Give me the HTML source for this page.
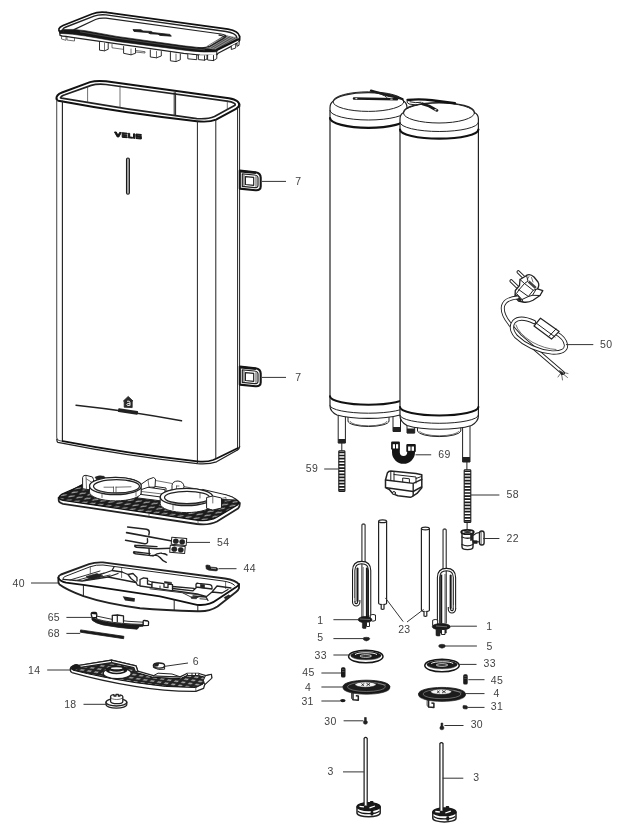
<!DOCTYPE html>
<html>
<head>
<meta charset="utf-8">
<style>
html,body{margin:0;padding:0;background:#fff;}
body{width:628px;height:838px;overflow:hidden;font-family:"Liberation Sans",sans-serif;}
svg{display:block;position:absolute;left:0;top:0;}
.l{fill:none;stroke:#222;stroke-width:1;stroke-linecap:round;stroke-linejoin:round;}
.t{fill:none;stroke:#333;stroke-width:0.7;stroke-linecap:round;stroke-linejoin:round;}
.b{fill:none;stroke:#111;stroke-width:1.6;stroke-linecap:round;stroke-linejoin:round;}
.w{fill:#fff;stroke:#222;stroke-width:1;stroke-linecap:round;stroke-linejoin:round;}
.wt{fill:#fff;stroke:#222;stroke-width:0.95;stroke-linecap:round;stroke-linejoin:round;}
.k{fill:#222;stroke:#222;stroke-width:0.6;stroke-linejoin:round;}
.ld{fill:none;stroke:#333;stroke-width:1;}
text{font-family:"Liberation Sans",sans-serif;font-size:10.5px;fill:#424242;letter-spacing:0.3px;}
</style>
</head>
<body>
<svg width="628" height="838" viewBox="0 0 628 838">
<rect width="628" height="838" fill="#fff"/>
<defs>
<pattern id="grid" width="8" height="4.400" patternUnits="userSpaceOnUse" patternTransform="skewY(8) skewX(-35)">
<rect width="8" height="4.400" fill="#1c1c1c"/>
<path d="M1.500,3.200 L6.500,1.400" stroke="#9a9a9a" stroke-width="1.300"/>
<path d="M1.800,1.600 L4,1.200" stroke="#666" stroke-width="0.700"/>
</pattern>
<pattern id="grid2" width="7" height="3.6" patternUnits="userSpaceOnUse" patternTransform="skewY(9) skewX(-40)">
<rect width="7" height="3.6" fill="#222"/>
<rect x="1.600" y="1" width="3.800" height="1.500" fill="#aaa"/>
</pattern>
</defs>


<!-- ===== LID ===== -->
<g id="lid">
<!-- side/underside white body -->
<path class="w" style="stroke-width:1.300" d="M59.500,30 L60,35.300 Q62,36.200 66,36.400 L72,37.300 L183.700,53.300 L200,55.100 L214,55.300 Q217.500,55 218.500,53 L237.400,43.200 Q239.400,42 239.500,40 L239.600,36 L106,12.400 Z"/>
<!-- tabs below -->
<path class="t" d="M61.500,35.800 L61.500,39 L66,40.300 L66,36.800 M67,37 L67,40 L74.500,41 L74.500,38"/>
<path class="wt" d="M99.500,42 L99.500,50.200 L104.500,50.800 L108.200,49.300 L108.200,43.200"/>
<path class="t" d="M104.500,43 L104.500,50.800"/>
<path class="t" d="M112,44.500 L112,47.800 L124,49.400"/>
<path class="wt" d="M123.600,46.500 L123.600,53.300 L131,54.800 L135.500,53.300 L135.500,48.300"/>
<path class="t" d="M131,49 L131,54.800 M135.500,50.500 L145,51.700 L145,53 L135.500,52"/>
<path class="wt" d="M150.300,50 L150.300,57 L156.500,57.800 L161.300,56 L161.300,51.500"/>
<path class="t" d="M156.500,51.500 L156.500,57.800"/>
<path class="wt" d="M170.400,52.500 L170.400,60.800 L176,61.600 L180.300,59.800 L180.300,54"/>
<path class="t" d="M176,54 L176,61.600"/>
<path class="wt" d="M187.800,54.500 L187.800,58.800 L196.700,59.700 L196.700,55.200 M198.400,55.200 L198.400,59.600 L204.500,60.200 L207,59 L207,55.300 M204.500,55.800 L204.500,60.200 M207.600,55.300 L207.600,60 L213.500,60.600 L216.800,58.500 L216.800,54 M213.500,55.500 L213.500,60.600"/>
<path class="wt" d="M231.300,46.200 L231.300,49.500 L235.700,48 L235.700,44 M237,43.300 L237,46.300 L239,45.300 L239.200,41.500"/>
<!-- white strip edge lines are part of body; now top surface -->
<path d="M60.500,32.600 C57.500,30 58.500,27.500 63,25.500 L92,14 Q98,11.600 106,12.400 L228,29.200 Q238.500,31 239.600,36.500 L239.500,39 L217,50.200 Q205,51.200 190,49.200 Z" fill="#fff" stroke="none"/>
<!-- hatch zone -->
<path d="M224.600,35 L236.500,37.300 L237.800,39.300 L216.800,49.600 L206.800,47.900 Z" fill="#8c8c8c"/>
<path class="t" style="stroke:#222;stroke-width:0.600" d="M209,47 L227,36 M211.500,47.700 L230,36.700 M214,48.300 L232.500,37.500 M216.500,49 L235,38.300 M207.500,46 L225,35.400"/>
<!-- outer rim -->
<path class="b" style="stroke-width:1.700" d="M60.500,32.600 C57.500,30 58.500,27.500 63,25.500 L92,14 Q98,11.600 106,12.400 L228,29.200 Q238.500,31 239.600,36.500 L239.500,40.500"/>
<!-- front thick band -->
<path d="M60,30.800 L62.500,29.500 L74,29.400 L85.400,30.700 L116.900,36.400 L183.700,45.800 L207,48.400 L217,49.800 L216.800,51.800 Q205,52.700 190,50.900 L116.900,41.400 L85.400,36 L72.300,34.200 L60.300,33.400 Z" fill="#161616" stroke="#161616" stroke-width="0.600" stroke-linejoin="round"/>
<path d="M80,31.800 L116.900,38.200 L183.700,47.600 L205,49.900" fill="none" stroke="#777" stroke-width="0.500"/>
<path class="b" style="stroke-width:2.200" d="M216.800,50 L238.300,39.300"/>
<path class="l" d="M216.800,50 L216.800,54.800"/>
<!-- second / third rim lines -->
<path class="l" style="stroke-width:1.400" d="M63.500,31.200 C62,29.400 63,28.200 66,27 L94,16.200 Q99,14.200 106,14.900 L226,31.500 Q235.800,33 236.900,37.500"/>
<!-- inner panel -->
<path class="l" style="stroke-width:1.200" d="M74,29.600 L95.500,19.500 Q100,17.600 106,18.200 L221,34 Q228,35.200 224.600,37.500 L223.500,38.600 M219,35.200 Q226.500,36.300 223.500,38.600 L209.500,46.400 Q205,48.300 198,47.600"/>
<!-- logo bar -->
<path d="M133,29.600 L141,29.800 L143,31 L151,31.400 L153,32.600 L170,34.400 L171.300,36.200 L160,35.400 L158,34.200 L150,33.800 L148,32.600 L134,31.400 Z" fill="#1a1a1a" stroke="#1a1a1a" stroke-width="0.800"/>
</g>

<!-- ===== BODY ===== -->
<g id="body">

<!-- top rim outer -->
<path class="b" style="stroke-width:1.900" d="M56.600,99 C56,96 58,94 62,92.500 L90,82.200 Q96,80.300 106,81.300 L229,98.300 Q240.500,100.300 239.300,106.500"/>
<path class="b" style="stroke-width:1.900" d="M56.600,99 Q57,100.500 58.400,100.800 Q127.600,113.700 196.800,121.200 Q209,122.600 216,119.600 L236,108.800 Q239.300,107 239.300,104"/>
<!-- inner rim -->
<path class="l" style="stroke-width:1.700" d="M61,97.900 C60.500,96.600 62,95.700 64.800,94.800 L91.200,85.400 Q97.200,83.600 106,84.500 L227,101.200 Q236.500,102.700 235,105.200 L214.500,116.500 Q208,119.300 196.800,118.600 Q130,110.200 63.100,98.400 Q60.800,98.300 60.500,97.800"/>
<!-- inside verticals -->
<path class="t" d="M87.600,86.500 L87.600,101.500 M120,85.800 L120,107"/>
<path class="l" d="M174.200,92.500 L174.200,115.500 M175.600,92.700 L175.600,115.700"/>
<path class="t" d="M227.300,101 L227.300,109.500"/>
<!-- body sides -->
<path d="M56.700,100 L56.700,437.500 Q57,440.300 60,440.800 L62.700,441.200" fill="none" stroke="#555" stroke-width="1.100"/>
<path class="l" style="stroke-width:1.150" d="M62.400,101 L62.400,441"/>
<path class="l" d="M197.400,121.300 L197.400,463"/>
<path class="l" d="M215.800,120 L215.800,458.500"/>
<path class="l" d="M237.600,108 L237.600,447.500"/>
<path class="l" d="M239.600,105 L239.600,447"/>
<!-- bottom -->
<path class="b" style="stroke-width:1.700" d="M62.700,441.200 Q131,454.300 197.400,461.300 Q207,462.200 213,460 L216,458.700 L238,447.900"/>
<path class="l" style="stroke-width:1.300" d="M56.800,439.500 Q57,442 57.900,442.400 Q127.650,456.300 197.400,463.700 Q209,464.600 216.500,461.800 L237,450.300 Q239.600,449 239.600,446.500"/>
<!-- logo VELIS -->
<g fill="#161616" stroke="#161616" stroke-width="1">
<path d="M114.5,132 L116.3,132 L118,135.3 L119.6,132.4 L121.3,132.5 L118.8,137 L117.2,136.9 Z"/>
<path d="M122.2,132.7 L127.2,133.2 L127.2,134.1 L123.6,133.8 L123.6,134.7 L126.8,135 L126.8,135.8 L123.6,135.5 L123.6,136.5 L127.2,136.8 L127.2,137.7 L122.2,137.3 Z"/>
<path d="M128.3,133.3 L129.7,133.4 L129.7,137 L132.6,137.3 L132.6,138.2 L128.3,137.8 Z"/>
<path d="M133.5,133.8 L134.9,133.9 L134.9,138.4 L133.5,138.3 Z"/>
<path d="M136,134 L141.3,134.5 L141.3,135.4 L137.4,135.1 L137.4,135.9 L141.3,136.3 L141.3,139 L136,138.5 L136,137.6 L139.9,138 L139.9,137.2 L136,136.8 Z"/>
</g>
<!-- slot -->
<rect x="126.500" y="158" width="2.900" height="36.200" rx="1.400" fill="#a8a8a8" stroke="#1a1a1a" stroke-width="1.100"/>
<!-- deco line -->
<path class="l" style="stroke-width:1.5" d="M76,405.2 Q130,411 181.5,420.8"/>
<!-- house icon -->
<path d="M123.4,401 L128.2,396.4 L133,401 L132.2,401 L132.2,407.6 L124.2,407.2 L124.2,401 Z" fill="#2a2a2a" stroke="#222" stroke-width="0.8" stroke-linejoin="round"/>
<path d="M127,401.3 Q129.8,400.3 130,402.6 L130,405.6 M130,403.3 Q126.6,403 126.8,404.8 Q127.2,406.2 130,405.2" fill="none" stroke="#fff" stroke-width="0.9"/>
<rect x="118" y="409.6" width="20" height="3.8" rx="0.8" fill="#222" transform="rotate(8 128 411.5)"/>
<!-- brackets -->
<g id="br1">
<path d="M239.800,170.600 L255.500,172.200 Q260.700,173 260.700,177.500 L260.700,186.500 Q260.700,190.600 255.500,190.200 L239.800,188.600 Z" fill="#fff" stroke="#151515" stroke-width="2.100" stroke-linejoin="round"/>
<path d="M240.500,171.300 L256,172.900" stroke="#151515" stroke-width="2.200"/>
<path class="l" style="stroke-width:1.200" d="M242.300,173.800 L254.500,175 Q258,175.500 258,178 L258,185.200 Q258,187.900 254.500,187.600 L242.300,186.400 Z"/>
<path d="M243.900,174.600 L243.900,186 M256,176.200 L256,186.800" stroke="#8a8a8a" stroke-width="1.500" fill="none"/>
<path class="l" style="stroke-width:1.200" d="M245.400,176.600 L253.700,177.400 L253.700,185.300 L245.400,184.500 Z"/>
</g>
<use href="#br1" y="196"/>

</g>

<!-- ===== FRAME ===== -->
<g id="frame">

<!-- plate side/thickness -->
<path class="w" style="stroke-width:1.800" d="M58.6,497.8 L58.8,501 Q59.5,503 63,503.8 L197,524 Q209,525.5 217,521.5 L238,508.5 Q240,507 239.8,503 L235,499 L100,481 L82,485 Z"/>
<!-- plate top surface -->
<path d="M59,497.5 Q59.5,495.5 62,494 L82,485.3 L100,481 L226,495 Q233,496.5 238,501 Q239.5,503.3 237.5,505 L216.5,517.5 Q209,521.5 198,520.3 L63,500.4 Q59.5,499.7 59,497.5 Z" fill="url(#grid)" stroke="#111" stroke-width="1.2" stroke-linejoin="round"/>
<path class="t" d="M149,513.6 L149,517 M198,520.5 L198,524"/>
<path d="M92,478.500 L141,483 L172,487 L204,490.500 L206,498 L160,498 L141,493 L92,488 Z" fill="#fff" stroke="none"/>
<path class="t" d="M155.500,480.500 L172,483.500 M184,486.500 L204,490.500"/>
<!-- left ear -->
<path class="w" d="M82.6,488.5 L82.6,477.5 Q83,475 86,475.3 L92.5,477 L93.5,479.5 L93.5,487 L90,489.5 Z"/>
<path class="t" d="M86,476 L86.5,488.5 M86.5,479 L93,483"/>
<!-- back block left of ring1 -->
<path class="k" d="M95,477.2 Q99,475 104,476.3 L106,478.6 L97,480 Z"/>
<!-- ring 1 -->
<path class="w" d="M138,484 L166,488 L166,501.5 L138,498 Z"/>
<path class="w" d="M89.5,486 A26,8.6 0 0 1 141.5,486 L141.5,492.3 A26,8.6 0 0 1 89.5,492.3 Z"/>
<ellipse cx="115.5" cy="486" rx="26" ry="8.6" class="w" style="stroke-width:1.3"/>
<ellipse cx="116.5" cy="486.3" rx="23" ry="6.6" class="w" style="stroke-width:1.2"/>
<path class="t" d="M95,489.3 A23,6.6 0 0 0 138.5,488.6 M113.5,487 L113.5,492.5 M116,487 L116,492.5 M104,487.2 L113.5,487.2 M116,487.2 L131,486.8"/>
<path class="t" d="M102,493.7 L102,497.5 M136,492 L136,496"/>
<!-- right ear ring1 -->
<path class="w" d="M141.5,484 L148,479.5 L153.5,477.5 L155.5,479 L155,487 L148,489.5 L141.5,489.5 Z"/>
<path class="t" d="M148,479.8 L149,487 L155,487 M149,487 L146,489.5"/>
<!-- middle bar -->
<path class="w" d="M141.5,489.5 L148,487.3 L165,489.7 L165,497.5 L141.5,494.5 Z"/>
<path class="t" d="M141.5,491.5 L165,494.3"/>
<!-- knob -->
<path class="w" d="M172,491 L172,485.5 Q172.5,481 178,481 Q183.5,481.5 184,486.5 L183,491.5 Z"/>
<path class="t" d="M176.5,486 L176.5,490.5 M176.5,486 L179,486"/>
<path class="w" d="M203,489.500 L226,494.800 Q233,496.500 236.500,500 L222,499.500 L204,497 Z"/>
<!-- ring 2 -->
<path class="w" d="M160.2,497 A26.3,8.6 0 0 1 212.8,497 L212.8,504 A26.3,8.6 0 0 1 160.2,504 Z"/>
<ellipse cx="186.5" cy="497" rx="26.3" ry="8.6" class="w" style="stroke-width:1.3"/>
<ellipse cx="187" cy="497.5" rx="22.5" ry="6.2" class="w" style="stroke-width:1.2"/>
<path class="t" d="M166,500.5 A22.5,6.2 0 0 0 208.5,500 M173,504.3 L173,509.5 M207,501.5 L207,506.5 M200,492.5 L200,498"/>
<!-- right block -->
<path class="w" d="M206.6,508 L206.6,497.500 L212.8,496 L221.5,498 L221.5,508 L213,510 Z"/>
<path class="t" d="M212.8,496.5 L212.8,503 M221.5,498.5 L226,497.5 L226,499 M225,500 L229,501.5 L225,503.5 Z"/>

</g>

<!-- ===== LOWER LEFT PARTS ===== -->
<g id="lowleft">

<!-- 54 wires -->
<g style="stroke-width:1.4">
<path class="l" style="stroke-width:1.400" d="M127.6,527 L146.5,529.2 Q149.5,529.8 149.3,532.5 L148.8,535"/>
<path class="l" style="stroke-width:1.700" d="M126.6,532.6 L172,541"/>
<path class="l" style="stroke-width:1.400" d="M125.5,540.3 L144.5,543.7 Q147.5,544 147.6,541.5 L147.4,538.6"/>
<path class="l" style="stroke-width:1.400" d="M135,545.2 Q134,546.8 136.5,547.2 L157,548.7 L171,548.3 M135,545.2 L157,546.6"/>
<path class="l" style="stroke-width:1.400" d="M133.8,551.8 Q132.8,553.3 135.5,553.8 L151,555.6 M133.8,551.8 L150,553.6"/>
<path class="l" style="stroke-width:1.400" d="M149,548.5 L149.3,554.5"/>
<path class="l" style="stroke-width:1.400" d="M151,555.6 Q157,554 160,557.5 Q162.5,561 166.3,562.3 M153,556 Q158,552.5 162,553.2 Q166,553.8 167,555"/>
<rect x="171.5" y="537.8" width="15" height="7" class="w" transform="rotate(5 179 541)"/>
<rect x="170" y="545.8" width="15" height="7" class="w" transform="rotate(5 177 549)"/>
<ellipse cx="175.8" cy="541.2" rx="2.6" ry="2.4" class="k"/><ellipse cx="182.2" cy="541.9" rx="2.6" ry="2.4" class="k"/>
<ellipse cx="174.3" cy="549.2" rx="2.6" ry="2.4" class="k"/><ellipse cx="180.8" cy="549.9" rx="2.6" ry="2.4" class="k"/>
</g>
<!-- 44 -->
<path class="k" d="M205.8,565.8 Q206,564.8 207.5,565 L210,565.6 L210.3,567 L216.5,567.6 Q218,568 217.8,569.5 Q217.5,571 216,570.9 L209,570.2 L206.3,569 Z"/>
<path d="M211,568.2 L216,568.8" stroke="#ccc" stroke-width="0.7"/>
<!-- 40 cover -->
<g>
<!-- outer body silhouette -->
<path class="w" style="stroke-width:1.900" d="M58.4,577.4 Q58.6,575.6 61,574.5 L89,564.2 Q95,562 103,562.4 L225,578.5 Q236,580.3 239,584.5 L239,588.3 Q238.5,590 236,592 L217.5,606.5 Q209,612 197,611.2 Q165,610.5 140,608.3 Q105,603.5 83.5,596.2 Q66,589.5 59.5,584.5 Q58.2,583.3 58.4,581 Z"/>
<!-- rim front edge -->
<path class="b" style="stroke-width:1.800" d="M58.4,577.8 Q60,581.2 66,582.6 L85,585.2 L160,596.4 L197,604.8 Q209,606 217,599.8 L237,586.4 Q239,585 239,584"/>
<!-- inner rim -->
<path class="l" d="M63,579.3 Q62.5,577.5 65,576.5 L90,566.8 Q96,564.6 103,565 L223,581 Q232,582.3 234.5,585.3"/>
<path class="t" d="M90.3,566.8 L90.3,574 M121.6,567.6 L121.6,577.5 M225.6,581.5 L225.6,588.5"/>
<!-- front face verticals -->
<path class="l" d="M83.4,585.2 L83.4,596 M174.2,599.5 L174.2,610.2 M197.8,605 L197.8,611"/>
<!-- small logo -->
<path d="M122.7,596.3 L135,598.2 L134.5,601.8 L125,600.6 Z" fill="#222"/>
<!-- interior -->
<path class="l" style="stroke-width:1.300" d="M63,579.3 L82,581 L112,570.5 L122,572 M82,581 L108,577 L118,573.5 M112,570.5 L114,567"/>
<path class="t" style="stroke-width:1" d="M70,580 L100,571 M76,580.6 L104,573 M90,579.6 L110,575"/>
<path class="k" d="M86,576.5 L97,573.5 L103,576 L92,579.5 Z"/>
<path class="l" style="stroke-width:1.300" d="M108,577 L136,582.5 L137.5,585.2 L160,588.7 L197,594 L206,596.5"/>
<path class="l" style="stroke-width:1.300" d="M122,572 L128,574.5 L131,578.5 L136,582.5 M128,574.5 L133,573.5 L137,577.5 L137,581"/>
<path class="w" style="stroke-width:1.300" d="M140,586 L140,579.5 L143.5,577.8 L147.5,578.5 L147.5,584 L152,584.8 L152,587.7 Z"/>
<path class="w" style="stroke-width:1.300" d="M152,587.7 L152,582 L164,583.6 L164,587.2 L168,587.6 L168,584 L172.5,584.6 L172.5,590.8 Z"/>
<path class="t" style="stroke-width:1" d="M147.500,580.5 L152,582 M150,588.8 L197,594.5 M160,586 L160,588.7"/>
<path class="k" d="M164.5,581.5 L171.5,582.4 L171.5,583.8 L164.500,583 Z"/>
<path class="l" style="stroke-width:1.300" d="M172.500,588.5 L193,590.8 L197,587 L211.5,588.2 M172.5,586.5 L194,588.4"/>
<path class="w" style="stroke-width:1.300" d="M196,587 L196,584.300 Q196.500,583 198.500,583.300 L210,584.700 Q212,585.300 212,587 L212,589 L196,587 Z"/>
<path class="k" d="M200.500,584.200 L204.500,584.700 L204.500,588 L200.500,587.500 Z"/>
<path class="l" style="stroke-width:1.300" d="M193,596 L206,597 L212,592 L217,586 L231,588 M206,597 L208,600.500 M212,592 L222,593 L228,589.500"/>
<path class="t" style="stroke-width:1" d="M183,593 L191,597 L198,597.5 M200,598.8 L207,599.3"/>
<path class="k" d="M224,597.500 L229,594.800 L230,596 L225.500,599 Z"/>
<path class="k" d="M191,597 L196.500,597.400 L196.500,598.800 L191.500,598.500 Z"/>
</g>
<!-- 65 -->
<g>
<path d="M92,617 Q95,619.500 103,621.200 Q120,624.500 143,624.700 L143,626.200 L139.600,626.500 L137.200,629.200 Q118,627.800 103,624.900 Q95,623 92,620 Z" fill="#1a1a1a" stroke="#1a1a1a" stroke-width="0.800" stroke-linejoin="round"/>
<path d="M96.300,616 Q112,620 128,621.300 L143.300,622.200 L143.300,624.400 Q120,624 103,620.700 Q98,619.600 96,618.300 Z" fill="#fff" stroke="#1a1a1a" stroke-width="0.900" stroke-linejoin="round"/>
<path d="M91.200,614.500 Q91,612.500 93,612.300 L95.300,612.500 Q96.900,612.800 96.800,614.500 L96.500,617.500 L92.200,618 Z" fill="#fff" stroke="#1a1a1a" stroke-width="1.300" stroke-linejoin="round"/>
<path d="M91.500,613.300 L96.500,613.600" stroke="#1a1a1a" stroke-width="1.600"/>
<path class="w" style="stroke-width:1.300" d="M112.300,621.300 L112.300,615.300 L117.500,615 L123.500,615.900 L123.500,622.300"/>
<path class="l" style="stroke-width:1.200" d="M117.300,615.200 L117.300,621.800"/>
<path d="M143.200,621 Q143.300,620.300 144.500,620.500 L147.800,621 Q148.700,621.300 148.600,622.300 L148.400,625.300 L143.200,625.600 Z" fill="#fff" stroke="#1a1a1a" stroke-width="1.300" stroke-linejoin="round"/>
</g>
<!-- 68 -->
<path d="M80.600,629.900 L123.900,636.300 L123.600,638.700 L80.300,632.200 Z" fill="#1a1a1a" stroke="#1a1a1a" stroke-width="0.8" stroke-linejoin="round"/>
<!-- 14 -->
<g>
<path class="w" style="stroke-width:1.300" d="M70.300,668.500 Q70.500,666.800 72.500,666 L75,664.800 Q77,664.200 79,665.600 L111.500,660.200 L136,665.800 L137.800,671.200 L153.400,675.700 L180.200,676.800 L186.900,673.500 L199,673.500 L205.800,675.700 L211.400,674.400 L211.800,678 L204.700,684.600 L203.600,688.400 L195.800,691.300 Q165,691.500 135,686.300 Q100,680.500 72,672.500 Q70,671.500 70.300,668.500 Z"/>
<!-- top grid area -->
<path d="M72.500,669.500 L80,667.200 L111.700,662.700 L134,667.500 L136.500,672.500 L153,677.300 L180.500,678.600 L187,675.500 L198.500,675.500 L206,677.500 L203,684 L195.800,687.500 Q165,687.800 135,682.600 Q100,677 73.500,670.300 Z" fill="url(#grid2)" stroke="#111" stroke-width="1"/>
<path class="w" style="stroke-width:1.200" d="M79,665.300 L111.500,660.200 L136,665.800 L137.800,671.200 L135.500,671.800 L133.800,667.600 L111.700,662.600 L80.500,667.300 Z"/>
<path class="l" d="M111.500,660.200 L111.700,662.600"/>
<path d="M70.800,668 Q71,665.800 73.500,665 L76,664.400 Q78.500,664.300 80,666 L80.300,667.500 L74,670.500 Q71,670.500 70.800,668 Z" fill="#1a1a1a"/>
<!-- hub -->
<ellipse cx="117.200" cy="673.200" rx="14" ry="5.500" class="w" style="stroke-width:1.400"/>
<ellipse cx="116.600" cy="670" rx="10.800" ry="4.300" fill="#1a1a1a"/>
<ellipse cx="116.600" cy="668.300" rx="5.800" ry="1" fill="#f4f4f4"/>
<path d="M109.500,671 Q116.600,673.500 123.700,671" fill="none" stroke="#f4f4f4" stroke-width="1.200"/>
<!-- right end bumps -->
<path class="w" d="M153.400,675.700 L158,673.200 L172,674 L180.200,676.800 Z"/>
<path class="w" d="M186.900,673.500 L188,675.500 L198.500,675.500 L199,673.500 M192,673.500 L192,675.500 M195.500,673.500 L195.500,675.500"/>
<path class="w" d="M205.800,675.700 L211.400,674.400 L211.800,678 L204.700,684.600 L203.500,680.500 Z"/>
<path class="t" d="M195.800,687.500 L195.800,691.300"/>
</g>
<!-- 6 -->
<g>
<path class="w" d="M153.400,665 L153.400,667.500 Q158,670.500 164.600,669.200 L164.600,666.200"/>
<ellipse cx="159" cy="665.600" rx="5.600" ry="2.600" class="w" style="stroke-width:1.300"/>
<path class="k" d="M154,664.500 Q156,662.700 159,663 L158,666 L154.500,666.500 Z"/>
</g>
<!-- 18 -->
<g>
<path class="w" style="stroke-width:1.200" d="M106,702.300 L106,704.500 A10.400,3.700 0 0 0 126.800,704.500 L126.800,702.300"/>
<ellipse cx="116.400" cy="702.300" rx="10.400" ry="3.700" class="w" style="stroke-width:1.400"/>
<path class="w" style="stroke-width:1.300" d="M110.600,701.500 L110.600,696.300 Q110.800,695 112.500,694.800 L114,694.600 L114,696 L116,696 L116,694.300 L118.300,694.300 L118.300,696 L120,696 L120,694.800 Q122.600,695.200 122.800,696.500 L122.800,701.500 A6.100,2.200 0 0 1 110.600,701.500 Z"/>
<path class="t" d="M110.600,697.500 A6.100,2 0 0 0 122.800,697.500"/>
</g>

</g>

<!-- ===== TANKS ===== -->
<g id="tanks">

<!-- LEFT TANK pipes (behind) -->
<path class="w" d="M338.200,412 L338.200,443 L345.400,443 L345.400,412 Z"/>
<rect x="338.200" y="439" width="7.200" height="4.200" fill="#222"/>
<path class="w" d="M393,412 L393,431.500 L400.500,431.500 L400.500,412 Z"/>
<rect x="393" y="427" width="7.500" height="4.800" fill="#222"/>
<!-- left flange -->
<path class="w" d="M348,414 L348,421 A20.500,5.500 0 0 0 389,421 L389,414 Z"/>
<path class="t" d="M350,421.500 A18.500,4.300 0 0 0 387,421.500"/>
<!-- left tank body -->
<path class="w" style="stroke-width:1.200" d="M330,118 L330,108 Q330,103.200 333.200,101.300 A35.500,9.800 0 0 1 403.800,101.300 Q407,103.200 407,108 L407,406 Q407,411.5 400,415 A40,9 0 0 1 337,415 Q330,411.5 330,406 Z"/>
<ellipse cx="368.500" cy="101.600" rx="35.500" ry="9.800" class="l"/>
<path class="l" d="M330,110.500 A38.500,9.500 0 0 0 407,110.500"/>
<path class="b" style="stroke-width:2.200" d="M330,118 A38.500,9.800 0 0 0 407,118"/>
<path class="b" style="stroke-width:2" d="M330,396.200 A38.500,8.500 0 0 0 407,396.200"/>
<path class="l" d="M330,405.700 A38.500,7.500 0 0 0 407,405.700"/>
<!-- left handle -->
<path d="M354,98.500 L397,99.300" stroke="#1a1a1a" stroke-width="2.500" stroke-linecap="round" fill="none"/>
<path d="M371,90.600 L384,94.300 L402.500,99" stroke="#1a1a1a" stroke-width="2.300" stroke-linecap="round" stroke-linejoin="round" fill="none"/>
<path class="l" d="M372,92 Q383,93.500 387,97.500 M388,96.300 Q396,95.500 400,98.400"/>
<ellipse cx="356.300" cy="98.600" rx="1.200" ry="0.700" fill="#ddd"/>
<ellipse cx="391.500" cy="99.100" rx="1.600" ry="0.700" fill="#ccc"/>
<!-- RIGHT TANK pipes -->
<path class="w" d="M407,422 L407,433 L414.700,433 L414.700,422 Z"/>
<rect x="407" y="428.500" width="7.700" height="4.800" fill="#222"/>
<path class="w" d="M462.600,424 L462.600,462 L470,462 L470,424 Z"/>
<rect x="462.600" y="457" width="7.400" height="5" fill="#222"/>
<!-- right flange -->
<path class="w" d="M417.500,424 L417.500,431 A21.700,6 0 0 0 460.800,431 L460.800,424 Z"/>
<path class="t" d="M419.500,431.300 A19.700,4.800 0 0 0 458.800,431.300"/>
<!-- right tank body -->
<path class="w" style="stroke-width:1.200" d="M400,130 L400,119 Q400,114.500 403.500,112.500 A35.500,10 0 0 1 474.500,112.500 Q478.400,114.500 478.400,119 L478.400,416 Q478.4,421.5 471.5,425.5 A40.5,9.5 0 0 1 407,425.5 Q400,421.5 400,416 Z"/>
<ellipse cx="439" cy="113" rx="35.500" ry="10" class="l"/>
<path class="l" d="M400,122.500 A39.200,9 0 0 0 478.400,122.500"/>
<path class="b" style="stroke-width:2.200" d="M400,129.500 A39.200,9.200 0 0 0 478.400,129.500"/>
<path class="b" style="stroke-width:2" d="M400,407 A39.200,8.500 0 0 0 478.400,407"/>
<path class="l" d="M400,415.300 A39.200,8 0 0 0 478.400,415.300"/>
<!-- right handle -->
<path class="b" style="stroke-width:2.400" d="M407.500,100 Q420,98.700 432,100.300 L455,103.200"/>
<path d="M422.500,103.800 L429,106 L437,110.400" stroke="#1a1a1a" stroke-width="2.800" stroke-linecap="round" stroke-linejoin="round" fill="none"/>
<path class="l" d="M407.500,100 Q405.500,102.500 409,104 Q416,106 422,103.800 M410,101.800 Q416,103.300 421,102.300"/>
<ellipse cx="435.500" cy="109.700" rx="1.200" ry="0.700" fill="#ddd"/>
</g>

<!-- ===== CABLE ===== -->
<g id="cable">

<!-- pins -->
<path d="M518.300,272 L525.800,279.300" stroke="#222" stroke-width="3.600" stroke-linecap="round" fill="none"/>
<path d="M518.300,272 L526.200,279.700" stroke="#fff" stroke-width="1.700" stroke-linecap="round" fill="none"/>
<path d="M511.200,281 L518.700,288.300" stroke="#222" stroke-width="3.600" stroke-linecap="round" fill="none"/>
<path d="M511.200,281 L519.100,288.700" stroke="#fff" stroke-width="1.700" stroke-linecap="round" fill="none"/>
<!-- plug body -->
<path class="w" style="stroke-width:1.300" d="M515.300,290.500 L519.500,285.500 L520,279.500 L525,276.500 L526.500,275.400 Q530,273.300 534,277 L538,282 Q539.800,285 537.500,288.800 L542.800,290.700 L540,295.500 L533,300.300 Q528,303 523,302 L518.500,301 L515,297 Z"/>
<path class="l" d="M520,279.500 L524.500,283.500 L519,289.800 M526.500,275.400 L528,281 L524.500,283.500 M524.500,283.500 L533.200,290.300 L528.400,296.500 L519,289.800"/>
<path class="l" d="M533.200,290.300 L537.500,288.800 M528.400,296.500 L532.500,295.300 L540,295.500 M532.500,295.300 L536,289.500 M519,289.800 L516.500,293.500 L522,299.500 L528.400,296.500 M522,299.500 L523,302"/>
<path d="M528.600,281.500 L535.800,288 " stroke="#444" stroke-width="2.600" fill="none"/>
<path class="t" d="M529,276.500 L527.500,279 M531.500,277.500 L533,282"/>
<path class="k" d="M515.500,294 L521.500,299.500 L520.500,301.500 L515,297 Z"/>
<!-- cable from plug -->
<path d="M517.500,297.500 Q505,298.500 503,306 Q501.500,314 509.500,323.500 Q514,330 520,336 L563,373" fill="none" stroke="#222" stroke-width="4" stroke-linecap="round"/>
<path d="M517.500,297.500 Q505,298.500 503,306 Q501.500,314 509.500,323.500 Q514,330 520,336 L563,373" fill="none" stroke="#fff" stroke-width="2.200" stroke-linecap="round"/>
<!-- loop -->
<path d="M534,322 Q520,315.500 514,321.500 Q509,328 516,336.500 Q530,350 552,352.500 Q566.500,353 566,345 Q565,338 556,333" fill="none" stroke="#222" stroke-width="4.200" stroke-linecap="round"/>
<path d="M534,322 Q520,315.500 514,321.500 Q509,328 516,336.500 Q530,350 552,352.500 Q566.500,353 566,345 Q565,338 556,333" fill="none" stroke="#fff" stroke-width="2.400" stroke-linecap="round"/>
<path class="t" d="M516,325 Q518,333 532,342 Q545,349 556,349.500"/>
<!-- inline box -->
<path class="w" style="stroke-width:1.200" d="M540.500,318.200 L559.200,331.400 L551.500,339.100 L534,326 Z"/>
<path class="l" d="M536.500,323.300 L555,337 M556,329 L548.500,336.800"/>
<!-- frayed end -->
<path class="t" d="M561.500,372 L568,373.500 M562,373 L567.500,377.500 M561.500,373.500 L562.500,380 M560.500,373.500 L558,377"/>
<path class="k" d="M559.500,370.500 L563.500,373.500 L561.500,375 Z"/>

</g>

<!-- ===== MID RIGHT PARTS ===== -->
<g id="midright">

<!-- 59 -->
<path class="l" d="M341.800,443 L341.800,451"/>
<rect x="338.8" y="450.8" width="6.10" height="40.70" rx="0.8" fill="#fff" stroke="#1a1a1a" stroke-width="1.100"/><path d="M338.8,452.37 L344.9,452.37 M338.8,455.50 L344.9,455.50 M338.8,458.63 L344.9,458.63 M338.8,461.76 L344.9,461.76 M338.8,464.89 L344.9,464.89 M338.8,468.02 L344.9,468.02 M338.8,471.15 L344.9,471.15 M338.8,474.28 L344.9,474.28 M338.8,477.41 L344.9,477.41 M338.8,480.54 L344.9,480.54 M338.8,483.67 L344.9,483.67 M338.8,486.80 L344.9,486.80 M338.8,489.93 L344.9,489.93 " stroke="#1a1a1a" stroke-width="1.72" fill="none"/>
<!-- 69 U-tube -->
<path d="M395.900,449 L395.900,452.300 A7.600,7.600 0 0 0 411.100,452.300 L411.100,451" fill="none" stroke="#151515" stroke-width="7.800"/>
<rect x="391.100" y="441.600" width="8.800" height="8.200" rx="1.200" fill="#151515"/>
<rect x="392.800" y="444.200" width="2.200" height="4.300" fill="#fff"/><rect x="396" y="444.200" width="2.200" height="4.300" fill="#fff"/>
<rect x="406.300" y="443.900" width="9.500" height="8.200" rx="1.200" fill="#151515"/>
<rect x="408.100" y="446.500" width="2.400" height="4.300" fill="#fff"/><rect x="411.600" y="446.500" width="2.400" height="4.300" fill="#fff"/>
<!-- box -->
<g>
<path class="w" style="stroke-width:1.500" d="M385.500,480 L387.400,472.900 Q388.500,471 390.800,471 L416,473.400 L421.800,474.800 L421.800,487.700 L417,493.400 L413.200,495.800 Q411.500,497.300 410.300,497.200 L397.900,495.800 L393.100,493.900 L389.300,489.600 L385.500,487.700 Z"/>
<path class="l" style="stroke-width:1.400" d="M385.500,480 L413.200,483.400 L421.800,479.300 M413.200,483.400 L413.200,495.800"/>
<path class="l" style="stroke-width:1.500" d="M386.500,487.800 L413.200,491.500 L421.500,486.800"/>
<path class="l" d="M390.800,471.500 L390.800,480.500 M394,472 L394,480.800 M394,474.500 L416,477 L416,483"/>
<path class="l" d="M402.700,481.800 L402.700,478 L409.400,478.800 L409.400,482.600 M416,478.500 L421.500,476.500"/>
<ellipse cx="394" cy="493" rx="1.500" ry="1.500" class="w"/>
</g>
<!-- 58 -->
<path class="l" d="M466.900,462 L466.900,470 M467.100,522 L467.100,530"/>
<rect x="464.2" y="469.7" width="6.60" height="52.80" rx="0.8" fill="#fff" stroke="#1a1a1a" stroke-width="1.100"/><path d="M464.2,471.25 L470.8,471.25 M464.2,474.36 L470.8,474.36 M464.2,477.46 L470.8,477.46 M464.2,480.57 L470.8,480.57 M464.2,483.68 L470.8,483.68 M464.2,486.78 L470.8,486.78 M464.2,489.89 L470.8,489.89 M464.2,492.99 L470.8,492.99 M464.2,496.10 L470.8,496.10 M464.2,499.21 L470.8,499.21 M464.2,502.31 L470.8,502.31 M464.2,505.42 L470.8,505.42 M464.2,508.52 L470.8,508.52 M464.2,511.63 L470.8,511.63 M464.2,514.74 L470.8,514.74 M464.2,517.84 L470.8,517.84 M464.2,520.95 L470.8,520.95 " stroke="#1a1a1a" stroke-width="1.71" fill="none"/>
<!-- 22 valve -->
<g>
<path class="w" style="stroke-width:1.400" d="M462,532 L462,547 Q462,549.600 467.500,549.600 Q473,549.600 473,547 L473,532"/>
<ellipse cx="467.500" cy="532" rx="6.300" ry="2.200" fill="#fff" stroke="#151515" stroke-width="1.800"/>
<ellipse cx="467.500" cy="532.100" rx="3.600" ry="1" fill="#333"/>
<path class="l" style="stroke-width:1.300" d="M462,537 Q467.500,539.500 473,537 M462,544.500 Q467.500,547.200 473,544.500"/>
<path class="k" d="M470.500,534 L473,533.500 L473,540 L470.500,540.500 Z"/>
<path class="w" style="stroke-width:1.200" d="M473,535.500 Q476,532.500 480,532.300 L480,541.800 L473,541.500 Z"/>
<path class="k" d="M473,540.600 L477.200,540.800 L477.200,543.400 L473,543.400 Z"/>
<rect x="479.500" y="531" width="4.600" height="14" rx="2.200" class="w" style="stroke-width:1.400"/>
<path class="t" d="M481.200,531.500 L481.200,544.600"/>
</g>

</g>

<!-- ===== LOWER RIGHT PARTS ===== -->
<g id="lowright">

<!-- tubes 23 -->
<g style="stroke-width:1.200">
<path class="w" style="stroke-width:1.200" d="M378.600,521.300 L378.600,603 Q378.600,604.500 382.600,604.500 Q386.600,604.500 386.600,603 L386.600,521.300"/>
<ellipse cx="382.600" cy="521.300" rx="4" ry="1.400" class="w" style="stroke-width:1.200"/>
<path class="w" style="stroke-width:1.200" d="M381.200,604.500 L381.200,609 Q382.600,609.800 384,609 L384,604.500"/>
<path class="w" style="stroke-width:1.200" d="M421.400,528.500 L421.400,610 Q421.400,611.500 425.400,611.500 Q429.400,611.500 429.400,610 L429.400,528.500"/>
<ellipse cx="425.400" cy="528.500" rx="4" ry="1.400" class="w" style="stroke-width:1.200"/>
<path class="w" style="stroke-width:1.200" d="M424,611.500 L424,616 Q425.400,616.800 426.800,616 L426.800,611.500"/>
</g>
<!-- left heating element -->
<g id="he1">
<path d="M361.9,617 L361.9,525 Q363.5,523 365.1,525 L365.1,564.1" fill="none" stroke="#4a4a4a" stroke-width="1.300"/>
<path d="M363,567.1 L363,617" stroke="#8a8a8a" stroke-width="1.600" fill="none"/>
<path d="M353.7,602 L353.7,570.6 Q353.7,562.5 361.65,562.5 Q369.6,562.5 369.6,570.6 L369.6,617" fill="none" stroke="#1a1a1a" stroke-width="3.400"/>
<path d="M353.7,602 L353.7,570.6 Q353.7,562.5 361.65,562.5 Q369.6,562.5 369.6,570.6 L369.6,617 L369.6,618" fill="none" stroke="#fff" stroke-width="1.250"/>
<path d="M353.7,601 L353.7,602.3 A2.5,2.500 0 0 0 358.7,602.3 L358.7,600" fill="none" stroke="#1a1a1a" stroke-width="3.400"/>
<path d="M353.7,598 L353.7,602.3 A2.5,2.500 0 0 0 358.7,602.3 L358.7,600" fill="none" stroke="#fff" stroke-width="1.250"/>
<path d="M357.5,601 L357.5,568.6" stroke="#1a1a1a" stroke-width="2" fill="none" stroke-linecap="round"/>
<path d="M366.9,567.6 L366.9,617" stroke="#1a1a1a" stroke-width="2" fill="none"/>
<!-- flange -->
<path class="w" d="M370.500,615 Q373,613.800 375.500,615 L375.500,620.500 Q373,622 370.500,620.500 Z"/>
<ellipse cx="365" cy="619.600" rx="6.800" ry="3" fill="#1a1a1a" stroke="#111" stroke-width="0.800"/>
<path d="M360,619 L370,619.500" stroke="#888" stroke-width="0.700"/>
<path class="k" d="M362.400,622 L362.400,628 Q364,629 366,628.300 L366,625.500 L368.800,625.500 L368.800,622 Z"/>
<path class="w" d="M366.500,622.500 L366.500,626.500 L369.500,626.500 L369.500,622.500"/>
</g>
<!-- right heating element -->
<g id="he2">
<path d="M446.25,623.5 L446.25,530 Q444.65,528 443.05,530 L443.05,571.1" fill="none" stroke="#4a4a4a" stroke-width="1.300"/>
<path d="M445.15,574.1 L445.15,623.5" stroke="#8a8a8a" stroke-width="1.600" fill="none"/>
<path d="M454.45,609 L454.45,577.6 Q454.45,569.5 446.5,569.5 Q438.55,569.5 438.55,577.6 L438.55,623.5" fill="none" stroke="#1a1a1a" stroke-width="3.400"/>
<path d="M454.45,609 L454.45,577.6 Q454.45,569.5 446.5,569.5 Q438.55,569.5 438.55,577.6 L438.55,623.5 L438.55,624.5" fill="none" stroke="#fff" stroke-width="1.250"/>
<path d="M454.45,608 L454.45,609.3 A2.5,2.500 0 0 1 449.45,609.3 L449.45,607" fill="none" stroke="#1a1a1a" stroke-width="3.400"/>
<path d="M454.45,605 L454.45,609.3 A2.5,2.500 0 0 1 449.45,609.3 L449.45,607" fill="none" stroke="#fff" stroke-width="1.250"/>
<path d="M450.65,608 L450.65,575.6" stroke="#1a1a1a" stroke-width="2" fill="none" stroke-linecap="round"/>
<path d="M441.25,574.6 L441.25,623.5" stroke="#1a1a1a" stroke-width="2" fill="none"/>
<path class="w" d="M433,620 Q435.300,618.800 437.700,620 L437.700,625.800 Q435.300,627 433,625.800 Z"/>
<ellipse cx="441.300" cy="626.700" rx="9" ry="3.100" fill="#1a1a1a" stroke="#111" stroke-width="0.800"/>
<path d="M436,626 L447,626.800" stroke="#888" stroke-width="0.700"/>
<path class="k" d="M436,629.500 L436,635.500 Q438,636.500 440,635.800 L440,633 L446.300,633 L446.300,629.500 Z"/>
<path class="w" d="M441.500,630 L441.500,634.500 L445,634.500 L445,630"/>
</g>
<!-- 5 -->
<path class="k" d="M363,638.500 Q363,637.300 366.300,637.300 Q369.700,637.300 369.700,638.500 Q369.700,640.200 366.300,641 Q363,640.200 363,638.500 Z"/>
<path class="k" d="M438.700,646 Q438.700,644.300 442,644.300 Q445.400,644.300 445.400,646 Q445.400,647.600 442,648.200 Q438.700,647.600 438.700,646 Z"/>
<!-- 33 rings -->
<g id="r33">
<ellipse cx="365.800" cy="656.500" rx="17.200" ry="6.300" fill="#fff" stroke="#151515" stroke-width="1.500"/>
<ellipse cx="365.900" cy="655.600" rx="15.400" ry="4.300" fill="#1a1a1a"/>
<path d="M355,654.600 A11.500,2.600 0 0 1 377,654.600" fill="none" stroke="#eee" stroke-width="1"/>
<ellipse cx="365.800" cy="656" rx="5.800" ry="1.300" fill="none" stroke="#ddd" stroke-width="0.900"/>
<path d="M352.500,657.300 A14,3.600 0 0 0 379.500,657.300" fill="none" stroke="#888" stroke-width="0.600"/>
</g>
<use href="#r33" x="76.200" y="9"/>
<!-- 45 -->
<g id="p45">
<rect x="341" y="667.300" width="4.500" height="10.200" rx="1.600" fill="#1a1a1a"/>
<path d="M342,669.500 L344.500,669.500 M342,671.500 L344.500,671.500" stroke="#777" stroke-width="0.500"/>
</g>
<use href="#p45" x="122.200" y="7"/>
<!-- 4 discs -->
<g id="d4">
<path class="k" d="M343,686.500 L343,688 A23.400,6.300 0 0 0 389.800,688 L389.800,686.500 Z"/>
<ellipse cx="366.400" cy="686.500" rx="23.400" ry="6.300" fill="#1c1c1c" stroke="#111" stroke-width="0.800"/>
<ellipse cx="366.400" cy="686.800" rx="19" ry="4.700" fill="none" stroke="#999" stroke-width="0.600"/>
<ellipse cx="365.500" cy="684.600" rx="10.500" ry="2.700" fill="#f2f2f2" stroke="#111" stroke-width="0.600"/>
<path d="M361.500,683.500 L364,685.800 M364,683.300 L361.500,686 M366.500,683.300 L370,685.500 M370,683.300 L366.500,685.800" stroke="#222" stroke-width="0.900" fill="none"/>
<path d="M378,683.500 L386,685" stroke="#999" stroke-width="0.600"/>
<!-- hook -->
<path d="M353,692.500 L353,699.800 L358.300,700.200 L358.300,696 L355.800,695.800" fill="none" stroke="#222" stroke-width="1.500" stroke-linejoin="round"/>
<path d="M353,692.500 L351.500,693 L351.500,698.500 L353,699.800" fill="none" stroke="#222" stroke-width="0.800"/>
</g>
<use href="#d4" x="75.600" y="7.200"/>
<!-- 31 -->
<ellipse cx="342.800" cy="700.600" rx="2.800" ry="1.700" fill="#1a1a1a"/>
<path class="k" d="M463,706 Q463,705.300 464,705.400 L466.500,705.700 Q467.400,706 467.400,707 L467.400,708 Q467.400,709 466.400,709 L464,708.800 Q463,708.600 463,707.800 Z"/>
<!-- 30 -->
<g id="s30">
<path class="k" d="M364.500,717.500 L366.300,717.500 L366.300,720.500 Q367.500,721 367.400,722.500 Q367.300,724.200 365.400,724.200 Q363.400,724.200 363.400,722.500 Q363.400,721 364.500,720.500 Z"/>
</g>
<g transform="translate(76.500,5.600)"><use href="#s30"/></g>
<!-- 3 rods -->
<g id="rod3">
<path class="w" style="stroke-width:1.500" d="M357,807 L357,813 A11.600,3.800 0 0 0 380.200,813 L380.200,807"/>
<ellipse cx="368.600" cy="806.600" rx="11.600" ry="3.900" fill="#1a1a1a" stroke="#151515" stroke-width="1.300"/>
<path d="M359.500,806.300 L364,806.800 M369.500,807.800 L375,806" stroke="#fff" stroke-width="1.300" fill="none"/>
<path d="M357.800,811.300 A11.600,3.800 0 0 0 379.400,811.300" fill="none" stroke="#151515" stroke-width="1.300"/>
<rect x="370" y="800.900" width="3.300" height="2.600" rx="0.600" fill="#1a1a1a"/>
<rect x="370.600" y="811" width="2.700" height="4.600" rx="0.800" fill="#1a1a1a"/>
<path d="M364.100,805.500 L364.100,738.300 Q365.650,736.600 367.200,738.300 L367.200,805.500" fill="#fff" stroke="#1a1a1a" stroke-width="1.200"/>
</g>
<use href="#rod3" x="75.800" y="5.200"/>

</g>

<!-- ===== LABELS ===== -->
<g id="labels" style="filter:grayscale(1)">

<g class="ld">
<path d="M262,181.400 L286,181.400 M262,377.400 L286,377.400"/>
<path d="M187,542.400 L210,542.400 M218.500,568.700 L236.500,568.700 M31,583 L58,583"/>
<path d="M66.400,617.400 L91.300,617.400 M66.400,633.400 L80.200,633.400 M47.200,670 L70.200,670 M165,666.300 L188,663 M83.500,704.300 L107,704.300"/>
</g>
<text x="295.300" y="185">7</text>
<text x="295.300" y="381">7</text>
<text x="217" y="546.200">54</text>
<text x="243.500" y="572.400">44</text>
<text x="12.500" y="586.500">40</text>
<text x="47.700" y="621.200">65</text>
<text x="47.700" y="637.200">68</text>
<text x="28" y="673.500">14</text>
<text x="192.800" y="665.300">6</text>
<text x="64.200" y="707.800">18</text>

<g class="ld">
<path d="M566,344.600 L593.300,344.600 M324.200,469 L338.200,469 M415.500,454.800 L431.200,454.800 M470.600,495 L499.400,495 M483.200,538.500 L499.400,538.500"/>
</g>
<text x="600" y="348.400">50</text>
<text x="305.800" y="472.400">59</text>
<text x="438.300" y="458.400">69</text>
<text x="506.500" y="498.400">58</text>
<text x="506.500" y="541.500">22</text>

<g class="ld">
<path d="M385.400,597.900 L403.200,621.600 M423.600,609.400 L407,622"/>
<path d="M333.400,619.700 L358.300,619.700 M450.500,626.200 L476.900,626.200"/>
<path d="M333.400,638.600 L363,638.600 M445.400,646 L476.900,646"/>
<path d="M333.400,655 L349.300,655 M458.700,664.400 L476.500,664.400"/>
<path d="M321.400,673 L341,673 M468.300,679.700 L484.500,679.700"/>
<path d="M321.400,687 L343.600,687 M465.400,693.600 L484.500,693.600"/>
<path d="M321.400,701 L340,701 M467.300,707.400 L484.500,707.400"/>
<path d="M343.600,720.800 L363.400,720.800 M444.400,725.500 L463.500,725.500"/>
<path d="M343,771.900 L363.900,771.900 M442.700,778.200 L463.300,778.200"/>
</g>
<text x="317.300" y="623.500">1</text>
<text x="486.300" y="629.600">1</text>
<text x="398.200" y="633.300">23</text>
<text x="317.300" y="641.400">5</text>
<text x="486.600" y="649.700">5</text>
<text x="314.500" y="658.600">33</text>
<text x="483.500" y="667.400">33</text>
<text x="302.300" y="676.400">45</text>
<text x="490.800" y="683.500">45</text>
<text x="305" y="690.800">4</text>
<text x="493.500" y="696.500">4</text>
<text x="301.400" y="704.500">31</text>
<text x="490.800" y="710.400">31</text>
<text x="324.300" y="724.600">30</text>
<text x="470.700" y="728.400">30</text>
<text x="327.500" y="775.400">3</text>
<text x="473.300" y="781.400">3</text>
<!--LABELS-->
</g>
</svg>
</body>
</html>
